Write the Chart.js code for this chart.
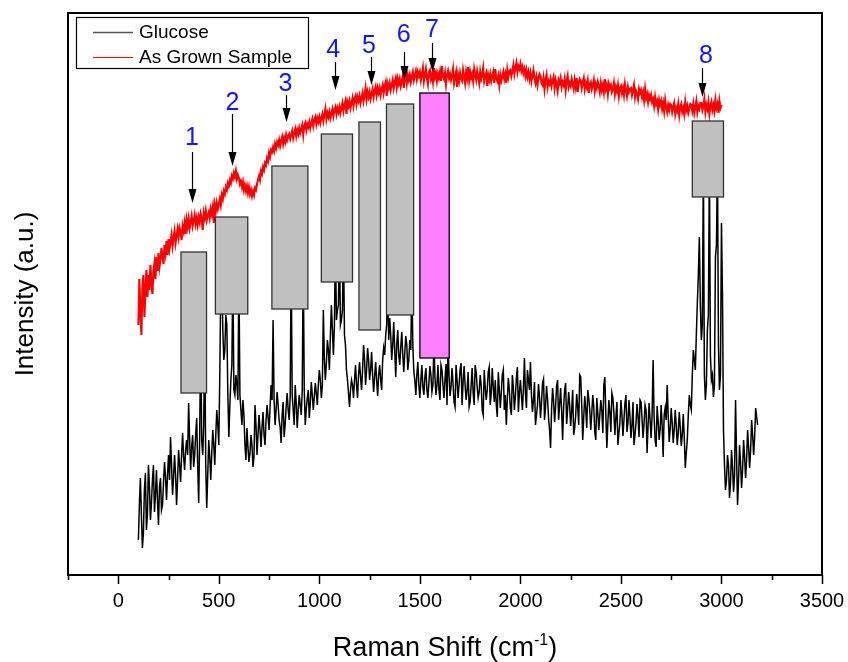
<!DOCTYPE html>
<html><head><meta charset="utf-8">
<script src="https://cdn.jsdelivr.net/npm/chart.js@4.4.1/dist/chart.umd.min.js"></script>
<style>html,body{margin:0;padding:0;background:#fff;}#wrap{width:848px;height:662px;}</style>
</head><body><div id="wrap"><canvas id="c" width="848" height="662"></canvas></div>
<script>
// ---- data (Raman shift in cm-1, intensity in arbitrary units) ----
const glucoseStart = 100, glucoseStep = 5;   // sampling grid of the glucose spectrum
const grownStart = 100, grownStep = 5;       // sampling grid of the as-grown spectrum

const seriesNames = ['Glucose', 'As Grown Sample'];

const glucoseIntensity = [
35,70,97,60,27,42,85,102,45,60,
110,88,55,72,95,110,63,80,105,75,
50,88,97,65,70,92,113,98,75,100,
120,95,138,110,80,98,120,100,70,95,
125,110,93,120,142,118,105,125,135,120,
172,135,105,128,140,108,120,140,157,110,
72,140,245,135,120,150,245,110,67,100,
135,118,95,122,145,130,110,140,165,150,
130,200,295,300,245,215,225,260,250,180,
138,170,195,210,305,185,180,200,190,175,
305,180,165,150,175,160,130,115,147,128,
113,122,140,130,108,118,170,150,120,140,
160,145,128,148,163,140,130,155,170,158,
145,168,190,175,255,175,150,165,183,170,
155,148,132,160,173,138,150,168,182,165,
155,178,315,180,165,150,190,172,147,165,
180,170,160,185,315,185,150,166,177,185,
157,172,193,180,165,178,192,182,170,190,
205,195,177,190,265,215,195,212,235,225,
205,240,270,245,220,250,335,255,265,270,
335,250,255,265,335,240,230,205,195,182,
168,185,195,190,177,195,210,190,177,200,
213,198,185,205,230,215,190,205,227,215,
195,205,223,200,183,198,213,195,179,200,
210,195,185,215,227,220,240,250,300,235,
257,240,215,230,253,225,198,230,245,220,
210,228,243,220,203,222,239,230,205,215,
235,225,295,230,203,195,180,200,213,190,
177,195,210,188,180,198,207,185,177,192,
209,200,183,190,235,198,180,190,210,185,
175,210,205,190,177,196,211,170,235,200,
179,188,207,192,173,168,210,195,177,190,
205,212,170,193,209,190,175,185,203,168,
173,190,207,182,170,210,203,188,177,183,
200,190,165,160,205,188,175,185,203,208,
170,182,207,188,173,195,170,158,203,186,
167,182,200,205,165,180,150,176,197,185,
167,160,200,188,165,178,197,208,163,182,
195,180,165,186,217,182,167,205,195,185,
213,180,163,175,193,150,160,170,191,178,
157,172,192,196,155,168,189,176,157,145,
127,165,187,174,153,168,189,195,155,170,
187,165,135,168,185,192,151,166,183,170,
149,164,185,140,147,160,181,168,150,200,
198,170,135,158,179,166,147,185,177,165,
145,162,180,168,143,135,177,162,145,160,
175,164,142,190,198,160,127,152,175,162,
143,182,177,162,140,158,173,130,142,152,
175,160,139,155,172,180,143,152,175,158,
137,150,173,130,140,152,171,158,138,175,
173,156,137,152,170,165,122,150,172,155,
137,160,215,158,135,128,169,154,135,145,
170,150,118,160,167,155,190,160,133,146,
167,152,132,145,165,150,130,142,163,148,
129,140,161,138,107,122,135,160,180,170,
165,200,225,215,205,240,272,300,338,270,
235,250,415,200,175,190,245,260,415,220,
195,200,178,190,318,330,415,230,185,200,
352,280,145,110,85,95,120,110,77,92,
125,108,83,100,175,120,70,95,130,112,
87,105,135,118,97,115,145,128,107,125,
155,140,120,138,167,158,
150
];

const grownIntensity = [
250,296,265,240,288,300,258,283,305,278,
300,285,310,292,281,305,312,296,318,304,
322,308,315,327,318,311,330,322,334,320,
336,326,333,340,329,337,344,332,339,346,
338,347,343,335,349,344,352,341,355,348,
356,347,353,359,349,354,360,351,357,350,
358,353,361,356,345,362,357,364,355,360,
363,357,366,361,368,352,370,364,372,366,
371,376,370,380,376,384,381,388,385,392,
389,395,392,399,396,402,398,404,396,400,
397,391,394,388,393,385,390,384,389,382,
388,381,385,379,384,380,387,385,391,395,
399,395,404,401,408,405,412,410,417,414,
422,418,425,423,428,424,431,427,433,430,
435,429,434,438,431,437,433,440,435,439,
441,436,440,444,437,442,446,439,445,441,
447,442,446,450,440,449,452,445,451,448,
453,447,452,456,449,455,458,451,457,453,
458,452,457,461,454,460,466,456,462,458,
463,457,462,466,459,465,468,461,467,463,
468,462,467,472,464,470,474,461,473,469,
474,467,472,477,469,476,479,471,478,474,
479,472,477,482,474,480,487,476,483,478,
483,476,481,486,478,484,488,480,487,482,
487,480,486,490,482,489,493,479,491,487,
492,485,490,495,487,493,497,488,496,491,
496,489,494,499,487,497,501,492,500,495,
500,493,498,503,495,500,504,496,503,499,
503,495,501,507,494,500,506,497,491,503,
505,496,500,493,507,498,502,494,501,497,
503,494,509,499,496,502,491,500,504,497,
501,495,499,506,492,498,503,488,500,494,
502,496,494,505,499,492,503,497,508,495,
503,497,501,494,506,500,495,504,498,492,
503,496,500,507,494,499,502,489,500,495,
501,494,499,503,492,506,497,494,499,490,
500,494,498,503,496,501,492,505,498,504,
505,499,504,510,501,507,512,503,509,506,
511,504,508,502,506,499,505,498,503,496,
502,494,500,505,497,492,498,490,497,501,
499,492,490,497,486,495,500,488,494,491,
496,489,494,498,487,495,490,484,495,492,
497,488,493,490,496,485,494,499,488,492,
489,496,491,486,495,488,497,483,492,496,
494,487,493,497,486,492,488,494,482,491,
493,486,490,495,484,491,487,493,489,483,
492,485,490,483,496,486,490,481,491,487,
490,483,486,492,481,488,484,490,479,487,
489,482,487,480,491,485,479,488,483,486,
487,480,485,490,478,484,481,476,486,482,
485,478,483,475,486,477,481,473,480,476,
480,473,476,469,478,471,474,466,475,470,
474,466,472,464,475,468,463,470,465,471,
470,463,468,472,461,467,464,471,460,468,
471,463,467,461,473,465,469,462,466,471,
470,464,471,462,468,474,463,469,466,472,
472,465,469,476,463,470,466,473,461,469,
473,465,470,464,475,467,471,462,474,467,
470
];

const xTickValues = [0, 500, 1000, 1500, 2000, 2500, 3000, 3500];

// annotated bands (shift range and intensity range of each marker box)
const bandStart = [312, 483, 764, 1010, 1197, 1334, 1500, 2855];
const bandEnd   = [439, 644, 943, 1165, 1304, 1469, 1646, 3010];
const bandLow   = [182, 261, 266, 293, 245, 260, 217, 378];
const bandHigh  = [323, 358, 409, 441, 453, 471, 482, 454];

// numbered peak arrows
const peakLabels = ['1','2','3','4','5','6','7','8'];
const peakShift  = [366, 566, 832, 1077, 1255, 1419, 1559, 2902];
const labelShift = [366, 568, 832, 1069, 1247, 1420, 1560, 2923];
const labelBase  = [430, 465, 484, 518, 522, 533, 538, 512];
const arrowTop   = [423, 461, 480, 513, 518, 523, 532, 507];
const arrowTip   = [372, 409, 453, 485, 490, 495, 503, 478];

// ---- chart ----
const FONT = '"Liberation Sans", Arial, Helvetica, sans-serif';
const toPoints = (arr, start, step) => arr.map((v, i) => ({ x: start + step * i, y: v }));

const overlay = {
  id: 'overlay',
  afterDatasetsDraw(chart) {
    const ctx = chart.ctx, xs = chart.scales.x, ys = chart.scales.y;
    ctx.save();
    for (let i = 0; i < bandStart.length; i++) {
      const x0 = xs.getPixelForValue(bandStart[i]), x1 = xs.getPixelForValue(bandEnd[i]);
      const y0 = ys.getPixelForValue(bandHigh[i]), y1 = ys.getPixelForValue(bandLow[i]);
      ctx.fillStyle = i === 6 ? '#ff80ff' : '#c0c0c0';
      ctx.fillRect(x0, y0, x1 - x0, y1 - y0);
      ctx.strokeStyle = i === 6 ? '#000' : '#333';
      ctx.lineWidth = 1.3;
      ctx.strokeRect(x0, y0, x1 - x0, y1 - y0);
    }
    for (let i = 0; i < peakLabels.length; i++) {
      const x = Math.round(xs.getPixelForValue(peakShift[i])) + 0.5;
      const yt = ys.getPixelForValue(arrowTop[i]), yb = ys.getPixelForValue(arrowTip[i]);
      const head = 14, hw = 4;
      ctx.strokeStyle = '#000'; ctx.lineWidth = 1.2;
      ctx.beginPath(); ctx.moveTo(x, yt); ctx.lineTo(x, yb - head + 1); ctx.stroke();
      ctx.fillStyle = '#000';
      ctx.beginPath(); ctx.moveTo(x - hw, yb - head); ctx.lineTo(x + hw, yb - head); ctx.lineTo(x, yb); ctx.closePath(); ctx.fill();
      ctx.fillStyle = '#1414ff';
      ctx.font = '25px ' + FONT;
      ctx.textAlign = 'center'; ctx.textBaseline = 'alphabetic';
      ctx.fillText(peakLabels[i], xs.getPixelForValue(labelShift[i]), ys.getPixelForValue(labelBase[i]));
    }
    ctx.restore();
  },
  afterDraw(chart) {
    const ctx = chart.ctx, a = chart.chartArea, xs = chart.scales.x;
    ctx.save();
    ctx.strokeStyle = '#000'; ctx.lineWidth = 2;
    ctx.strokeRect(a.left, a.top, a.right - a.left, a.bottom - a.top);
    ctx.lineWidth = 1.5;
    xs.ticks.forEach(t => {
      const px = Math.round(xs.getPixelForValue(t.value)) + 0.5;
      const len = xTickValues.includes(t.value) ? 9 : 5;
      ctx.beginPath(); ctx.moveTo(px, a.bottom); ctx.lineTo(px, a.bottom + len); ctx.stroke();
    });
    ctx.fillStyle = '#000'; ctx.textBaseline = 'alphabetic'; ctx.textAlign = 'left';
    const main = 'Raman Shift (cm', sup = '-1', close = ')';
    ctx.font = '27px ' + FONT; const w1 = ctx.measureText(main).width, w3 = ctx.measureText(close).width;
    ctx.font = '16px ' + FONT; const w2 = ctx.measureText(sup).width;
    let sx = (a.left + a.right) / 2 - (w1 + w2 + w3) / 2;
    const by = 656;
    ctx.font = '27px ' + FONT; ctx.fillText(main, sx, by); sx += w1;
    ctx.font = '16px ' + FONT; ctx.fillText(sup, sx, by - 11); sx += w2;
    ctx.font = '27px ' + FONT; ctx.fillText(close, sx, by);
    ctx.translate(26, (a.top + a.bottom) / 2);
    ctx.rotate(-Math.PI / 2);
    ctx.textAlign = 'center'; ctx.textBaseline = 'middle';
    ctx.font = '26px ' + FONT;
    ctx.fillText('Intensity (a.u.)', 0, 0);
    ctx.restore();
    ctx.save();
    const lx = 76, ly = 17, lw = 232, lh = 51;
    ctx.fillStyle = '#fff'; ctx.fillRect(lx, ly, lw, lh);
    ctx.strokeStyle = '#000'; ctx.lineWidth = 1.2; ctx.strokeRect(lx + 0.5, ly + 0.5, lw, lh);
    chart.data.datasets.forEach((ds, i) => {
      const yy = ly + 15 + i * 25;
      ctx.strokeStyle = i === 0 ? '#555' : ds.borderColor; ctx.lineWidth = i === 0 ? 1.6 : 1.2;
      ctx.beginPath(); ctx.moveTo(93, yy + 0.5); ctx.lineTo(133, yy + 0.5); ctx.stroke();
      ctx.fillStyle = '#000'; ctx.font = '19px ' + FONT; ctx.textAlign = 'left'; ctx.textBaseline = 'middle';
      ctx.fillText(ds.label, 139, yy + 1);
    });
    ctx.restore();
  }
};

new Chart(document.getElementById('c'), {
  type: 'line',
  data: {
    datasets: [
      { label: seriesNames[0], data: toPoints(glucoseIntensity, glucoseStart, glucoseStep), borderColor: '#000000', borderWidth: 1.5, pointRadius: 0, tension: 0, fill: false },
      { label: seriesNames[1], data: toPoints(grownIntensity, grownStart, grownStep), borderColor: '#ff0000', borderWidth: 2.1, pointRadius: 0, tension: 0, fill: false }
    ]
  },
  options: {
    responsive: false, animation: false, devicePixelRatio: 1,
    layout: { padding: { left: 0, right: 26, top: 13, bottom: 0 } },
    plugins: { legend: { display: false }, tooltip: { enabled: false } },
    scales: {
      x: {
        type: 'linear', min: -250, max: 3500,
        ticks: { stepSize: 250, autoSkip: false, maxRotation: 0, padding: 14, color: '#000',
                 font: { family: FONT, size: 20 },
                 callback: v => xTickValues.includes(v) ? String(v) : '' },
        grid: { display: false, drawTicks: false }, border: { display: false },
        afterFit: s => { s.height = 87; s.paddingLeft = 0; s.paddingRight = 0; }
      },
      y: {
        min: 0, max: 562,
        ticks: { display: false }, grid: { display: false, drawTicks: false }, border: { display: false },
        afterFit: s => { s.width = 68; }
      }
    }
  },
  plugins: [overlay]
});
</script></body></html>
